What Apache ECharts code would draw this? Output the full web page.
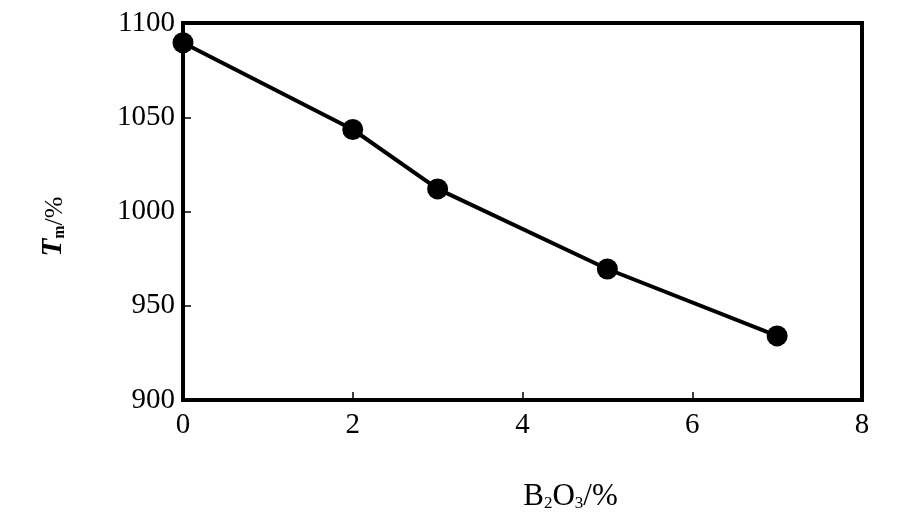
<!DOCTYPE html>
<html>
<head>
<meta charset="utf-8">
<script src="https://cdn.jsdelivr.net/npm/echarts@6/dist/echarts.min.js"></script>
<style>html,body{margin:0;padding:0;background:#fff}#c{width:897px;height:522px}</style>
</head>
<body>
<div id="c"></div>
<script>
const xValues = [0, 2, 3, 5, 7];
const tmValues = [1089.5, 1043.5, 1012, 969.5, 934];
const xTicks = [0, 2, 4, 6, 8];
const yTicks = [900, 950, 1000, 1050, 1100];

const chart = echarts.init(document.getElementById('c'));
const font = '"Liberation Serif", "DejaVu Serif", serif';
chart.setOption({
  animation: false,
  backgroundColor: '#fff',
  grid: {left: 183, right: 35, top: 23, bottom: 122, show: true, borderColor: '#000', borderWidth: 4},
  xAxis: {
    type: 'value', min: xTicks[0], max: xTicks[xTicks.length - 1], interval: xTicks[1] - xTicks[0],
    axisLine: {lineStyle: {color: '#000', width: 4}},
    axisTick: {inside: true, length: 8, lineStyle: {color: '#000', width: 1.5}},
    splitLine: {show: false},
    axisLabel: {color: '#000', fontFamily: font, fontSize: 29, margin: 11, formatter: v => String(v)},
    name: '{n|B}{s|2}{n|O}{s|3}{n|/%}',
    nameLocation: 'middle', nameGap: 82,
    nameTextStyle: {
      padding: [0, 0, 0, 96],
      rich: {
        n: {fontFamily: font, fontSize: 31, color: '#000', verticalAlign: 'bottom', lineHeight: 30},
        s: {fontFamily: font, fontSize: 17, color: '#000', verticalAlign: 'bottom', lineHeight: 8}
      }
    }
  },
  yAxis: {
    type: 'value', min: yTicks[0], max: yTicks[yTicks.length - 1], interval: yTicks[1] - yTicks[0],
    axisLine: {lineStyle: {color: '#000', width: 4}},
    axisTick: {inside: true, length: 8, lineStyle: {color: '#000', width: 1.5}},
    splitLine: {show: false},
    axisLabel: {color: '#000', fontFamily: font, fontSize: 29, margin: 8, formatter: v => String(v)},
    name: '{t|T}{s|m}{n|/%}',
    nameLocation: 'middle', nameGap: 115, nameRotate: 90,
    nameTextStyle: {
      padding: [0, 30, 0, 0],
      rich: {
        t: {fontFamily: font, fontSize: 29, fontStyle: 'italic', fontWeight: 'bold', color: '#000', verticalAlign: 'bottom', lineHeight: 30},
        n: {fontFamily: font, fontSize: 26, color: '#000', verticalAlign: 'bottom', lineHeight: 40},
        s: {fontFamily: font, fontSize: 16, fontWeight: 'bold', color: '#000', verticalAlign: 'bottom', lineHeight: 8}
      }
    }
  },
  series: [{
    type: 'line',
    data: xValues.map((x, i) => [x, tmValues[i]]),
    symbol: 'circle', symbolSize: 21,
    lineStyle: {color: '#000', width: 4},
    itemStyle: {color: '#000'}
  }]
});
</script>
</body>
</html>
